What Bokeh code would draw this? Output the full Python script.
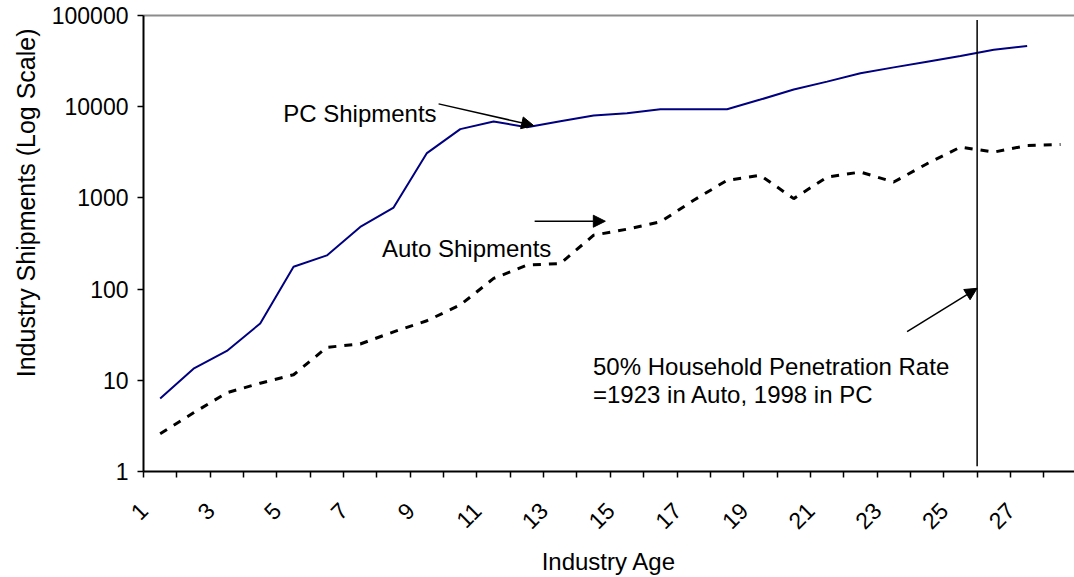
import math
from bokeh.plotting import figure
from bokeh.models import Range1d, FixedTicker, Label, Arrow, NormalHead, LinearAxis, Title
from bokeh.embed import file_html
from bokeh.resources import INLINE

# ---- data (industry age = category index) ----
pc_age = list(range(1, 28))
pc_shipments = [6.3, 13.4, 21, 42, 176, 234, 481, 784, 3100, 5680, 6890, 5960, 6930,
                8000, 8490, 9380, 9380, 9380, 11970, 15420, 18840, 23230, 26980,
                31190, 35960, 42170, 46240]
auto_age = list(range(1, 29))
auto_shipments = [2.6, 4.4, 7.3, 9.3, 11.5, 23, 25, 34, 45, 67, 131, 183, 191, 390,
                  454, 546, 942, 1559, 1768, 982, 1693, 1920, 1493, 2371, 3608, 3178,
                  3758, 3854]
x_tick_labels = [str(n) for n in range(1, 28, 2)]
y_ticks = [1, 10, 100, 1000, 10000, 100000]
y_tick_labels = ["1", "10", "100", "1000", "10000", "100000"]

# penetration marker (between categories 25 and 26)
penetration_x = 25.5

FONT = "Liberation Sans"

p = figure(width=1074, height=577,
           x_range=Range1d(0.5, 28.42), y_range=Range1d(1, 100000),
           y_axis_type="log", output_backend="svg", toolbar_location=None,
           min_border_left=143, min_border_right=0, min_border_top=15,
           min_border_bottom=105)
p.grid.visible = False
p.outline_line_color = None
p.background_fill_color = "white"

# x axis: ticks at category boundaries, labels on odd categories
bounds = [k - 0.5 for k in range(1, 30)]
xa = p.xaxis[0]
xa.ticker = FixedTicker(ticks=bounds)
overrides = {b: "" for b in bounds}
for lab in x_tick_labels:
    overrides[int(lab) - 0.5] = lab
xa.major_label_overrides = overrides
xa.minor_tick_line_color = None
xa.major_tick_out = 6
xa.major_tick_in = 0
xa.major_label_orientation = math.pi / 4
xa.major_label_standoff = 29
xa.major_label_text_font = FONT
xa.major_label_text_font_size = "23px"
xa.major_label_text_color = "black"
xa.axis_line_width = 2
xa.axis_line_color = "black"
xa.major_tick_line_width = 1.5
xa.axis_label = "Industry Age"
xa.axis_label_text_font = FONT
xa.axis_label_text_font_size = "24px"
xa.axis_label_text_font_style = "normal"
xa.axis_label_text_color = "black"
xa.axis_label_standoff = 8

ya = p.yaxis[0]
ya.ticker = FixedTicker(ticks=y_ticks)
ya.major_label_overrides = dict(zip(y_ticks, y_tick_labels))
ya.minor_tick_line_color = None
ya.major_tick_out = 6
ya.major_tick_in = 0
ya.major_label_standoff = 9
ya.major_label_text_font = FONT
ya.major_label_text_font_size = "23px"
ya.major_label_text_color = "black"
ya.axis_line_width = 2
ya.axis_line_color = "black"
ya.major_tick_line_width = 1.5

# y axis title (placed toward the top like the original)
p.add_layout(Title(text="Industry Shipments (Log Scale)", align="right", offset=13,
                   text_font=FONT, text_font_size="25px", text_font_style="normal",
                   text_color="black", standoff=18), "left")

# top border line
top = LinearAxis(ticker=FixedTicker(ticks=[]), major_label_text_font_size="0px",
                 major_tick_line_color=None, minor_tick_line_color=None,
                 axis_line_color="#8c8c8c", axis_line_width=2)
p.add_layout(top, "above")

# series
p.line(auto_age, auto_shipments, line_color="black", line_width=3, line_dash="8 8")
p.line(pc_age, pc_shipments, line_color="#000080", line_width=2)

# vertical marker line
p.segment(x0=[penetration_x], y0=[1.14], x1=[penetration_x], y1=[89000],
          line_color="black", line_width=1.5)

# annotations
def txt(x, y, s):
    p.add_layout(Label(x=x, y=y, text=s, text_font=FONT, text_font_size="24px",
                       text_color="black", text_align="left",
                       text_baseline="alphabetic"))

txt(4.69, 8357, "PC Shipments")
txt(7.65, 279, "Auto Shipments")
txt(13.98, 14.2, "50% Household Penetration Rate")
txt(13.98, 6.95, "=1923 in Auto, 1998 in PC")

def arrow(x0, y0, x1, y1):
    p.add_layout(Arrow(end=NormalHead(size=12, fill_color="black", line_color="black"),
                       x_start=x0, y_start=y0, x_end=x1, y_end=y1,
                       line_color="black", line_width=1.5))

arrow(9.35, 10740, 12.2, 6220)
arrow(12.23, 555, 14.35, 555)
arrow(23.4, 34.2, 25.5, 102)

open("out.html", "w").write(file_html(p, INLINE))
